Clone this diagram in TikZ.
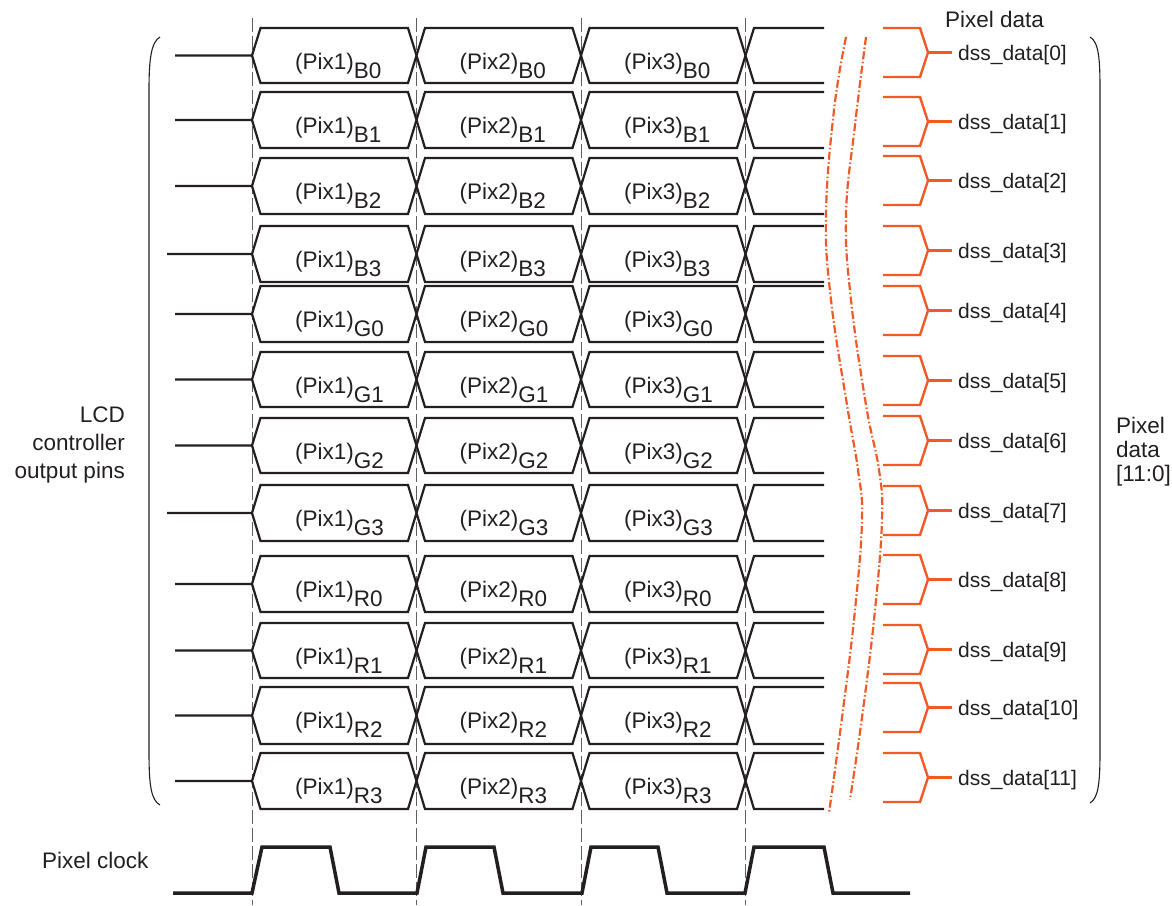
\documentclass[tikz,border=0pt]{standalone}
\usepackage{fontspec}
\setmainfont{Liberation Sans}
\definecolor{ink}{RGB}{35, 31, 32}
\definecolor{signal}{RGB}{241, 90, 36}
\definecolor{dashgray}{RGB}{95, 95, 95}

\begin{document}
\begin{tikzpicture}[x=1pt, y=-1pt,
        every node/.style={inner sep=0pt, text=ink, font=\fontsize{22.5}{28}\selectfont},
        bus/.style={draw=ink, line width=2.2pt},
        clk/.style={draw=ink, line width=3.5pt},
        guide/.style={draw=dashgray, line width=0.9pt, dash pattern=on 14pt off 4pt},
        brk/.style={draw=signal, line width=2.2pt, dash pattern=on 8pt off 2.5pt on 1.5pt off 2.5pt},
        tap/.style={draw=signal, line width=2.4pt},
        brace/.style={draw=ink, line width=1.1pt},
        pix/.style={anchor=base west},
        dss/.style={anchor=base west, font=\fontsize{21}{25}\selectfont}
    ]
        \useasboundingbox (0,0) rectangle (1172,905);

        % Clock edges (dashed guides)
        \foreach \x in {252, 416.5, 581, 745.5}
            \draw[guide] (\x,18) -- (\x,905);

        % Data lines: top/bottom/stub start/subscript
        \foreach \ya/\yb/\xs/\sub [count=\i from 0] in {
                28/83/175/B0, 92/148/175/B1, 158/214/175/B2, 226/282/167/B3,
                286/342/175/G0, 352/407/175/G1, 418/473/175/G2, 485/541/167/G3,
                556/612/175/R0, 623/678/175/R1, 687/744/175/R2, 753/809/175/R3} {
            \pgfmathsetmacro\ym{(\ya+\yb)/2}
            \draw[bus] (\xs,\ym) -- (252,\ym) -- (260.5,\ya) -- (408,\ya) -- (425,\yb)
                -- (572.5,\yb) -- (589.5,\ya) -- (737,\ya) -- (754,\yb) -- (824,\yb);
            \draw[bus] (252,\ym) -- (260.5,\yb) -- (408,\yb) -- (425,\ya)
                -- (572.5,\ya) -- (589.5,\yb) -- (737,\yb) -- (754,\ya) -- (824,\ya);
            \node[pix] (pa\i) at (295,\ya+41) {(Pix1)\lower9pt\hbox{\sub}};
            \node[pix] (pb\i) at (459.5,\ya+41) {(Pix2)\lower9pt\hbox{\sub}};
            \node[pix] (pc\i) at (624,\ya+41) {(Pix3)\lower9pt\hbox{\sub}};
        }

        % Break marks
        \draw[brk] plot[smooth, tension=0.7] coordinates {(846,37) (834,110) (826,215) (831,300)
            (847,405) (858,470) (862,520) (855,610) (843,710) (829,813)};
        \draw[brk] plot[smooth, tension=0.7] coordinates {(866,37) (855,125) (846,215) (851,300)
            (866,405) (879,470) (882,520) (875,610) (863,710) (850,800)};

        % Pixel data bits
        \foreach \yt [count=\i from 0] in {28, 97, 156, 226, 286, 356, 416, 486, 555, 625, 683, 753} {
            \draw[tap] (883,\yt) -- (920,\yt) -- (928,\yt+24.5) -- (920,\yt+49) -- (883,\yt+49);
            \draw[tap] (928,\yt+24.5) -- (952,\yt+24.5);
            \node[dss] (d\i) at (958,\yt+32.5) {dss\_data[\i]};
        }

        % Pixel clock
        \draw[clk] (173,893) -- (252,893) -- (262,847) -- (330,847) -- (339,893) -- (417,893)
            -- (426,847) -- (494,847) -- (503,893) -- (582,893) -- (591,847) -- (658,847)
            -- (667,893) -- (745,893) -- (754,847) -- (824,847) -- (833,893) -- (910,893);

        % Braces
        \draw[brace] (160,37) .. controls (151,42) and (149,60) .. (149,90) -- (149,752)
            .. controls (149,785) and (151,800) .. (160,805);
        \draw[brace] (1090,37) .. controls (1099,42) and (1100,60) .. (1100,90) -- (1100,752)
            .. controls (1100,785) and (1098,798) .. (1090,803);

        % Labels
        \node[anchor=base west] (top) at (945,27) {Pixel data};
        \node[anchor=north east, align=right] (lcd) at (125,407) {LCD\\controller\\output pins};
        \node[anchor=north west, align=left, font=\fontsize{22.5}{24}\selectfont] (bus) at (1116,417) {Pixel\\data\\{[11:0]}};
        \node[anchor=base west] (clock) at (42,868) {Pixel clock};
    \end{tikzpicture}
\end{document}
